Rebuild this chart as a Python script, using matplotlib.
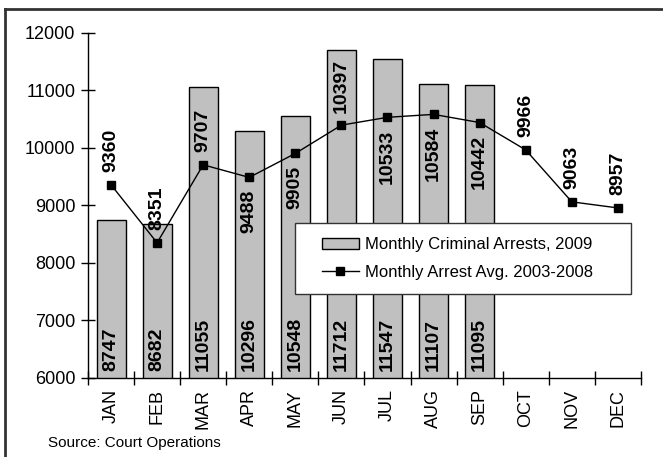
import matplotlib.pyplot as plt
from matplotlib.lines import Line2D
from matplotlib.patches import Rectangle

plt.rcParams['font.family'] = ['Liberation Sans', 'DejaVu Sans']

# datos
meses = ['JAN', 'FEB', 'MAR', 'APR', 'MAY', 'JUN', 'JUL', 'AUG', 'SEP', 'OCT', 'NOV', 'DEC']
arrestos_2009 = [8747, 8682, 11055, 10296, 10548, 11712, 11547, 11107, 11095]
promedio_03_08 = [9360, 8351, 9707, 9488, 9905, 10397, 10533, 10584, 10442, 9966, 9063, 8957]
# etiqueta de la linea arriba (True) o abajo (False) del punto
etiqueta_arriba = [True, True, True, False, False, True, False, False, False, True, True, True]

fig = plt.figure(figsize=(6.63, 4.57), dpi=100)
ax = fig.add_axes([0.1327, 0.1729, 0.834, 0.755])

x_bar = list(range(len(arrestos_2009)))
x_lin = list(range(len(promedio_03_08)))

barras = ax.bar(x_bar, arrestos_2009, width=0.63, color='#c0c0c0', edgecolor='black',
                linewidth=1, label='Monthly Criminal Arrests, 2009', zorder=2)
linea, = ax.plot(x_lin, promedio_03_08, color='black', linewidth=1, marker='s', markersize=6,
                 label='Monthly Arrest Avg. 2003-2008', zorder=3)

# etiquetas de barras (dentro, abajo)
for xi, v in zip(x_bar, arrestos_2009):
    ax.annotate(f'{v}', (xi, 6000), xytext=(0, 5), textcoords='offset points',
                rotation=90, ha='center', va='bottom', fontsize=14, fontweight='bold', zorder=4)

# etiquetas de la linea
for xi, v, arriba in zip(x_lin, promedio_03_08, etiqueta_arriba):
    off = 9 if arriba else -9
    ax.annotate(f'{v}', (xi, v), xytext=(0, off), textcoords='offset points',
                rotation=90, ha='center', va='bottom' if arriba else 'top',
                fontsize=14, fontweight='bold', zorder=4)

ax.set_xlim(-0.5, 11.5)
ax.set_ylim(6000, 12000)
ax.set_yticks(range(6000, 12001, 1000))
ax.tick_params(axis='y', direction='inout', length=10, labelsize=13, width=1, pad=4)

ax.set_xticks([i - 0.5 for i in range(13)])
ax.set_xticklabels([])
ax.set_xticks(x_lin, minor=True)
ax.set_xticklabels(meses, minor=True, rotation=90, fontsize=13)
ax.tick_params(axis='x', which='major', direction='inout', length=10, width=1)
ax.tick_params(axis='x', which='minor', length=0, pad=8)

for lado in ['top', 'right']:
    ax.spines[lado].set_visible(False)
ax.spines['left'].set_linewidth(1)
ax.spines['bottom'].set_linewidth(1)

# caja de la leyenda
caja = Rectangle((0.374, 0.243), 0.608, 0.206, transform=ax.transAxes, facecolor='white',
                 edgecolor='#333333', linewidth=1, zorder=5, clip_on=False)
ax.add_patch(caja)
leg = ax.legend([barras, linea], [barras.get_label(), linea.get_label()],
                loc='center left', bbox_to_anchor=(0.423, 0.346), frameon=False,
                fontsize=12, handlelength=2.2, borderpad=0, labelspacing=0.75,
                handletextpad=0.4, borderaxespad=0)
leg.set_zorder(6)

fig.text(0.072, 0.022, 'Source: Court Operations', fontsize=11)

# marco exterior
fig.add_artist(Line2D([0.008, 0.008], [0, 0.981], color='#333333', linewidth=2, transform=fig.transFigure))
fig.add_artist(Line2D([0.008, 1.0], [0.981, 0.981], color='#333333', linewidth=2, transform=fig.transFigure))

plt.savefig('out.png', dpi=100)
plt.close()
